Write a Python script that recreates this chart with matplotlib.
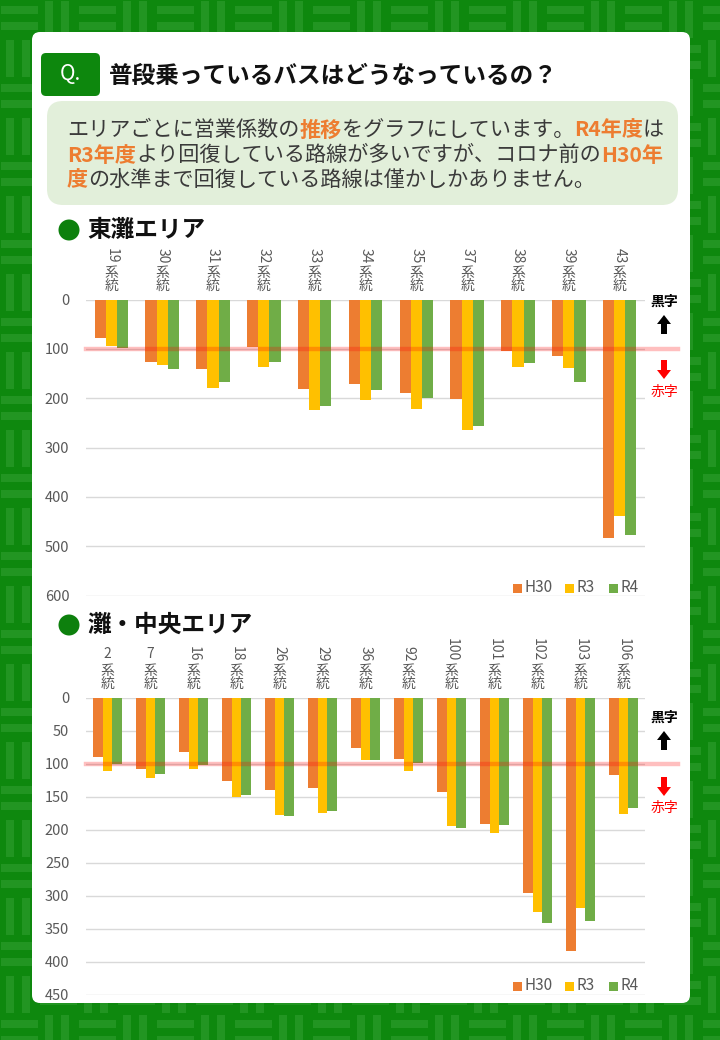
import matplotlib
matplotlib.use("Agg")
import numpy as np
import matplotlib.pyplot as plt
from matplotlib.patches import Rectangle, FancyBboxPatch, Circle, FancyArrow
from matplotlib.transforms import Affine2D

plt.rcParams['font.family'] = ['Noto Sans CJK JP', 'DejaVu Sans']

# ---- data (営業係数) ----
east_routes = ["19", "30", "31", "32", "33", "34", "35", "37", "38", "39", "43"]
east_h30 = [78, 126, 140, 96, 181, 171, 189, 201, 104, 114, 483]
east_r3 = [94, 132, 179, 136, 224, 203, 222, 265, 136, 138, 438]
east_r4 = [98, 140, 167, 126, 215, 183, 199, 256, 128, 167, 477]

central_routes = ["2", "7", "16", "18", "26", "29", "36", "92", "100", "101", "102", "103", "106"]
central_h30 = [90, 108, 82, 126, 140, 137, 76, 93, 143, 191, 296, 384, 117]
central_r3 = [111, 122, 108, 150, 178, 175, 95, 111, 194, 206, 325, 319, 176]
central_r4 = [101, 116, 102, 147, 179, 172, 95, 99, 197, 193, 341, 339, 168]

series_names = ["H30", "R3", "R4"]
series_colors = ["#ED7D31", "#FFC000", "#70AD47"]

W, H = 720, 1040
GREEN = "#0e880e"
ORANGE = "#ED7D31"
DARK = "#3a3a3a"
GRAY = "#595959"

fig = plt.figure(figsize=(W / 100, H / 100), dpi=100)
fig.patch.set_facecolor(GREEN)
# pixel coords, origin top-left
PX = Affine2D().scale(1 / W, -1 / H).translate(0, 1) + fig.transFigure

# basket weave background
cell = 39
for i in range(-1, W // cell + 2):
    for j in range(-1, H // cell + 2):
        x0, y0 = i * cell, j * cell
        if (i + j) % 2 == 0:
            for off in (6, 22):
                fig.add_artist(Rectangle((x0 + 1, y0 + off), cell - 2, 8, transform=PX,
                                         color="#229522", lw=0, zorder=-10))
        else:
            for off in (6, 22):
                fig.add_artist(Rectangle((x0 + off, y0 + 1), 8, cell - 2, transform=PX,
                                         color="#229522", lw=0, zorder=-10))

# white card
fig.add_artist(FancyBboxPatch((32, 32), 658, 971, boxstyle="round,pad=0,rounding_size=8",
                              transform=PX, fc="white", ec="none", zorder=-5))

# title
fig.add_artist(FancyBboxPatch((41, 53), 59, 43, boxstyle="round,pad=0,rounding_size=5",
                              transform=PX, fc="#0d870d", ec="none", zorder=-4))
fig.text(70, 74, "Q.", transform=PX, color="white", fontsize=15,
         ha="center", va="center")
fig.text(109, 76, "普段乗っているバスはどうなっているの？", transform=PX, color="#111111",
         fontsize=17, fontweight="bold", va="center")

# light green box
fig.add_artist(FancyBboxPatch((47, 101), 631, 104, boxstyle="round,pad=0,rounding_size=16",
                              transform=PX, fc="#e2efda", ec="none", zorder=-4))

renderer = fig.canvas.get_renderer()


def rich_line(x, y, parts, size=15.2):
    for s, c, bold in parts:
        t = fig.text(x, y, s, transform=PX, color=c, fontsize=size,
                     fontweight="bold" if bold else "normal", va="center")
        x += t.get_window_extent(renderer=renderer).width


rich_line(67, 130, [("エリアごとに営業係数の", DARK, False), ("推移", ORANGE, True),
                    ("をグラフにしています。", DARK, False), ("R4年度", ORANGE, True),
                    ("は", DARK, False)])
rich_line(67, 155, [("R3年度", ORANGE, True),
                    ("より回復している路線が多いですが、コロナ前の", DARK, False),
                    ("H30年", ORANGE, True)])
rich_line(67, 180, [("度", ORANGE, True),
                    ("の水準まで回復している路線は僅かしかありません。", DARK, False)])


def section(y, label):
    fig.add_artist(Circle((69, y), 10.5, transform=PX, color="#0d800d", lw=0, zorder=3))
    fig.text(87, y, label, transform=PX, color="#111111", fontsize=17,
             fontweight="bold", va="center")


def bar_panel(top, bottom, ymax, step, routes, h30, r3, r4, label_base):
    ax = fig.add_axes([86 / W, (H - bottom) / H, (645 - 86) / W, (bottom - top) / H])
    ax.set_facecolor("none")
    x = np.arange(len(routes))
    w = 0.22
    for k, vals in enumerate([h30, r3, r4]):
        ax.bar(x + (k - 1) * w, vals, width=w, color=series_colors[k], zorder=2)
    ax.set_xlim(-0.5, len(routes) - 0.5)
    ax.set_ylim(ymax, 0)
    ax.set_yticks(np.arange(0, ymax + 1, step))
    ax.set_xticks([])
    ax.tick_params(axis="y", length=0, pad=12, labelsize=10.5, labelcolor=GRAY)
    ax.grid(axis="y", color="#d9d9d9", lw=1)
    ax.set_axisbelow(True)
    for s in ax.spines.values():
        s.set_visible(False)
    # 営業係数100 line
    ax.axhline(100, xmin=0, xmax=(678 - 86) / (645 - 86), color="red", alpha=0.25,
               lw=3.2, clip_on=False, zorder=5)
    # vertical route labels
    tr = ax.get_xaxis_transform()
    for i, r in enumerate(routes):
        kw = dict(xycoords=tr, textcoords="offset pixels", ha="center", va="bottom",
                  color=GRAY, fontsize=10, annotation_clip=False)
        ax.annotate("統", (i, 1), xytext=(0, label_base), **kw)
        ax.annotate("系", (i, 1), xytext=(0, label_base + 13), **kw)
        ax.annotate(r, (i, 1), xytext=(0, label_base + 29),
                    rotation=0 if len(r) == 1 else -90, **kw)
    return ax


def side_marks(y_black, y_up, y_down, y_red):
    fig.text(664, y_black, "黒字", transform=PX, color="black", fontsize=10,
             fontweight="bold", ha="center", va="center")
    fig.add_artist(FancyArrow(664, y_up + 19, 0, -19, width=6, head_width=14, head_length=9,
                              length_includes_head=True, transform=PX, color="black", lw=0))
    fig.add_artist(FancyArrow(664, y_down, 0, 19, width=6, head_width=14, head_length=9,
                              length_includes_head=True, transform=PX, color="red", lw=0))
    fig.text(664, y_red, "赤字", transform=PX, color="red", fontsize=10,
             ha="center", va="center")


def legend(y):
    xs = [513, 565, 609]
    for k, name in enumerate(series_names):
        fig.add_artist(Rectangle((xs[k], y - 4.5), 9, 9, transform=PX, color=series_colors[k],
                                 lw=0, zorder=3))
        fig.text(xs[k] + 12, y, name, transform=PX, color=GRAY, fontsize=11, va="center")


section(230, "東灘エリア")
bar_panel(299.5, 595.5, 600, 100, east_routes, east_h30, east_r3, east_r4, 7)
side_marks(302, 315, 360, 392)
legend(588)

section(625, "灘・中央エリア")
bar_panel(697.5, 994.5, 450, 50, central_routes, central_h30, central_r3, central_r4, 7)
side_marks(718, 731, 777, 808)
legend(986)

fig.savefig("out.png", dpi=100, facecolor=fig.get_facecolor())
